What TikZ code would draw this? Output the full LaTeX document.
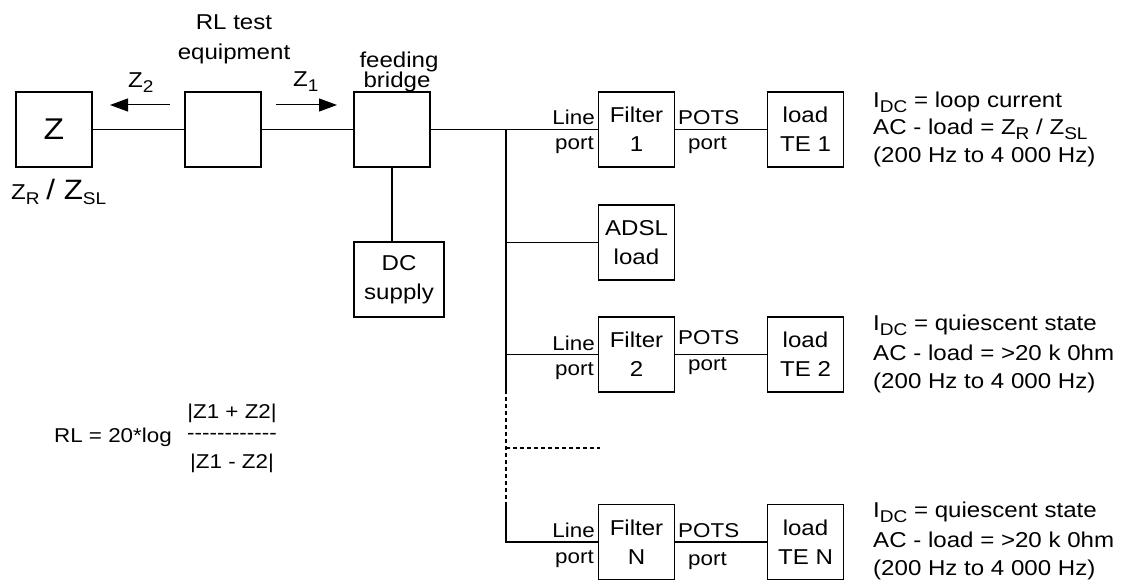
\documentclass[tikz,border=0pt]{standalone}
\usepackage{fontspec}
\setmainfont{Liberation Sans}[FakeStretch=1.12]
\usetikzlibrary{arrows.meta}
\newcommand{\sbs}[1]{\raisebox{-5pt}{\fontsize{17}{17}\selectfont #1}}
\newcommand{\hy}{\mbox{-}}
\begin{document}
\begin{tikzpicture}[x=1pt,y=-1pt,
  box/.style={draw,line width=1.7pt,minimum width=76pt,minimum height=75pt,inner sep=0pt,align=center,font=\fontsize{21.5}{29}\selectfont},
  lbl/.style={inner sep=0pt,font=\fontsize{21.5}{26}\selectfont},
  plbl/.style={inner sep=0pt,font=\fontsize{20}{24}\selectfont},
  lbls/.style={inner sep=0pt,font=\fontsize{20}{24}\selectfont},
  wire/.style={line width=1.7pt},
  dwire/.style={line width=1.4pt,dash pattern=on 4pt off 3pt},
  arr/.style={line width=1pt,-{Triangle[length=18pt,width=13pt]}}
]
\useasboundingbox (0,0) rectangle (1123,585);
% boxes
\node[box] (z) at (54,129.5) {\fontsize{30}{30}\selectfont Z};
\node[box] (rl) at (223,129.5) {};
\node[box] (fb) at (392,129.5) {};
\node[box,minimum width=90pt] (dc) at (399,279.5) {DC\\supply};
\node[box] (f1) at (636.5,129.5) {Filter\\1};
\node[box] (l1) at (805.5,129.5) {load\\TE 1};
\node[box] (adsl) at (636.5,242.5) {ADSL\\load};
\node[box] (f2) at (636.5,354.5) {Filter\\2};
\node[box] (l2) at (805.5,354.5) {load\\TE 2};
\node[box] (fn) at (636.5,542) {Filter\\N};
\node[box] (ln) at (805.5,542) {load\\TE N};
% wires
\draw[wire] (z.east) -- (rl.west);
\draw[wire] (rl.east) -- (fb.west);
\draw[wire] (fb.east) -- (f1.west);
\draw[wire] (fb.south) -- (fb.south |- dc.north);
\coordinate (bt) at (506,129.5);
\coordinate (b1) at (506,390);
\coordinate (b2) at (506,504);
\draw[wire] (bt) -- (b1);
\draw[dwire] (b1) -- (b2);
\draw[wire] (b2) -- (bt |- fn.west) -- (fn.west);
\draw[wire] (bt |- adsl.west) -- (adsl.west);
\draw[wire] (bt |- f2.west) -- (f2.west);
\coordinate (dh) at (506,448);
\coordinate (dhe) at (600,448);
\draw[dwire] (dh) -- (dhe);
\draw[wire] (f1.east) -- (l1.west);
\draw[wire] (f2.east) -- (l2.west);
\draw[wire] (fn.east) -- (ln.west);
% arrows
\coordinate (a2s) at (170,105);
\coordinate (a2e) at (110,105);
\coordinate (a1s) at (276,105);
\coordinate (a1e) at (337,105);
\draw[arr] (a2s) -- (a2e);
\draw[arr] (a1s) -- (a1e);
% top labels
\node[lbl,anchor=base] (rlt) at (234,30) {RL test};
\node[lbl,anchor=base] (rle) at (234,60) {equipment};
\node[lbl,anchor=base] (fd) at (399,68) {feeding};
\node[lbl,anchor=base] (br) at (397,88) {bridge};
\node[lbl,anchor=base west] (z2) at (128,88) {Z\sbs{2}};
\node[lbl,anchor=base west] (z1) at (293,87) {Z\sbs{1}};
\node[lbl,anchor=base west] (zr) at (11,200) {Z\sbs{R} {\fontsize{28}{28}\selectfont/ Z}\sbs{SL}};
% port labels
\node[plbl,anchor=base east] (p1a) at (595,125) {Line};
\node[plbl,anchor=base east] (p1b) at (594,150) {port};
\node[plbl,anchor=base west] (p1c) at (678,125) {POTS};
\node[plbl,anchor=base west] (p1d) at (688,150) {port};
\node[plbl,anchor=base east] (p2a) at (595,350) {Line};
\node[plbl,anchor=base east] (p2b) at (594,375) {port};
\node[plbl,anchor=base west] (p2c) at (678,344) {POTS};
\node[plbl,anchor=base west] (p2d) at (688,370) {port};
\node[plbl,anchor=base east] (p3a) at (595,537) {Line};
\node[plbl,anchor=base east] (p3b) at (594,563) {port};
\node[plbl,anchor=base west] (p3c) at (678,537) {POTS};
\node[plbl,anchor=base west] (p3d) at (688,565) {port};
% right texts
\node[lbl,anchor=base west] (g1a) at (873,108) {I\sbs{DC} = loop current};
\node[lbl,anchor=base west] (g1b) at (873,135) {AC - load = Z\sbs{R} / Z\sbs{SL}};
\node[lbl,anchor=base west] (g1c) at (873,163) {(200 Hz to 4 000 Hz)};
\node[lbl,anchor=base west] (g2a) at (873,330) {I\sbs{DC} = quiescent state};
\node[lbl,anchor=base west] (g2b) at (873,360) {AC - load = >20 k 0hm};
\node[lbl,anchor=base west] (g2c) at (873,388) {(200 Hz to 4 000 Hz)};
\node[lbl,anchor=base west] (g3a) at (873,517) {I\sbs{DC} = quiescent state};
\node[lbl,anchor=base west] (g3b) at (873,547) {AC - load = >20 k 0hm};
\node[lbl,anchor=base west] (g3c) at (873,575) {(200 Hz to 4 000 Hz)};
% formula
\node[lbls,anchor=base east] (rlf) at (172,442) {RL = 20*log};
\node[lbls,anchor=base] (num) at (232,418) {|Z1 + Z2|};
\node[lbls,anchor=base] (bar) at (232,439) {\hy\hy\hy\hy\hy\hy\hy\hy\hy\hy\hy\hy};
\node[lbls,anchor=base] (den) at (232,468) {|Z1 - Z2|};
\end{tikzpicture}
\end{document}
